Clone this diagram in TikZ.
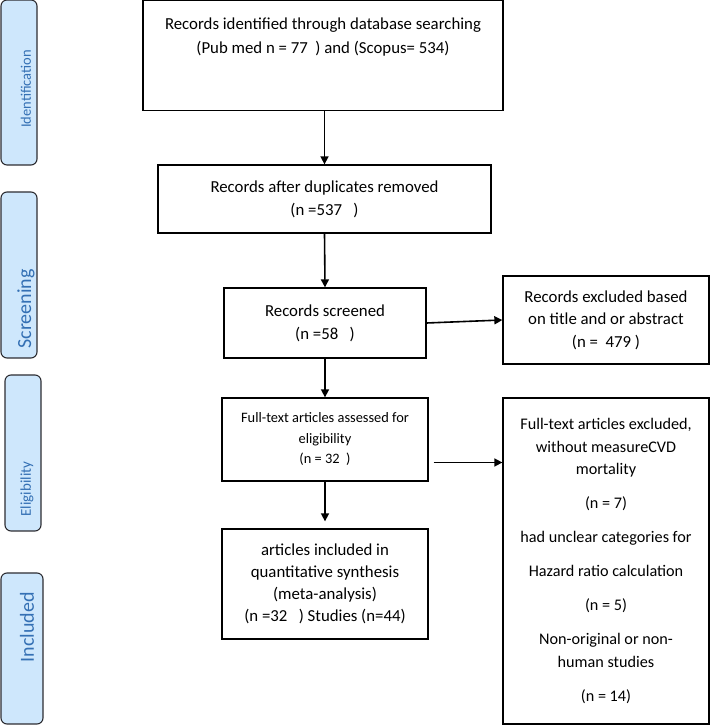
\documentclass[tikz,border=0pt]{standalone}
\usepackage{fontspec}
\setmainfont{Carlito}
\usetikzlibrary{arrows.meta,positioning}
\definecolor{phasefill}{RGB}{206,231,252}
\definecolor{phasetext}{RGB}{52,112,180}
\definecolor{phaseline}{RGB}{45,45,50}

\begin{document}
\begin{tikzpicture}
[x=1pt,y=1pt,
box/.style={draw,line width=1.3pt,inner sep=0pt,align=center,
font=\fontsize{16.8}{23}\selectfont},
phase/.style={draw=phaseline,fill=phasefill,rounded corners=6pt,
line width=1.1pt,inner sep=0pt},
phasetxt/.style={rotate=90,text=phasetext,inner sep=0pt},
arr/.style={-{Triangle[length=8pt,width=8pt]},line width=1.6pt}]
\useasboundingbox (0,0) rectangle (710,725);

% phases on the left
\node (s1) at (19,642.5) [phase,minimum width=36pt,minimum height=165pt] {};
\node (t1) at (26,636) [phasetxt,font=\fontsize{14.5}{16}\selectfont] {Identification};
\node (s2) at (19,450) [phase,minimum width=36pt,minimum height=166pt] {};
\node (t2) at (26,416) [phasetxt,font=\fontsize{20}{22}\selectfont] {Screening};
\node (s3) at (23,272) [phase,minimum width=36pt,minimum height=156pt] {};
\node (t3) at (27,236) [phasetxt,font=\fontsize{15}{17}\selectfont] {Eligibility};
\node (s4) at (22,76.5) [phase,minimum width=42pt,minimum height=151pt] {};
\node (t4) at (27,97.5) [phasetxt,font=\fontsize{20}{22}\selectfont] {Included};

% main column
\node (b1) at (323,669.5) [box,minimum width=360pt,minimum height=110pt] {};
\node (b1t) at (323,688) [align=center,inner sep=0pt,font=\fontsize{16.8}{24}\selectfont]
{Records identified through database searching\\(Pub med n = 77\ \ ) and (Scopus= 534)};
\node (b2) at (324.5,526) [box,minimum width=333pt,minimum height=68pt]
{Records after duplicates removed\\(n =537\ \ \ )};
\node (b3) at (325,402) [box,minimum width=202pt,minimum height=70pt]
{Records screened\\(n =58\ \ \ )};
\node (b4) at (325,285.5) [box,minimum width=206pt,minimum height=83pt,
font=\fontsize{14.4}{20.5}\selectfont]
{Full-text articles assessed for\\eligibility\\(n = 32\ \ )};
\node (b5) at (325,141) [box,minimum width=206pt,minimum height=110pt,
font=\fontsize{16.8}{22}\selectfont]
{articles included in\\quantitative synthesis\\(meta-analysis)\\(n =32\ \ \ ) Studies (n=44)};

% exclusions
\node (ex1) at (606,405) [box,minimum width=206pt,minimum height=88pt,
font=\fontsize{16.8}{22.5}\selectfont]
{Records excluded based\\on title and or abstract\\(n =\ \ 479 )};
\node (ex2) at (606,164) [box,minimum width=206pt,minimum height=326pt,
font=\fontsize{16.2}{22.5}\selectfont]
{Full-text articles excluded,\\without measureCVD\\mortality\\[11.5pt]
(n = 7)\\[11.5pt]had unclear categories for\\[11.5pt]Hazard ratio calculation\\[11.5pt]
(n = 5)\\[11.5pt]Non-original or non-\\human studies\\[11.5pt](n = 14)};

\draw[arr] (b1.south -| b2.north) -- (b2.north);
\draw[arr] (b2.south) -- (b3.north);
\draw[arr] (b3.south) -- (b4.north);
\draw[arr,shorten >=7pt] (b4.south) -- (b5.north);
\draw[arr] (b3.east) -- (ex1.west);
\coordinate (b4x) at ([xshift=5pt,yshift=-23pt]b4.east);
\draw[arr] (b4x) -- (b4x -| ex2.west);

\end{tikzpicture}
\end{document}
